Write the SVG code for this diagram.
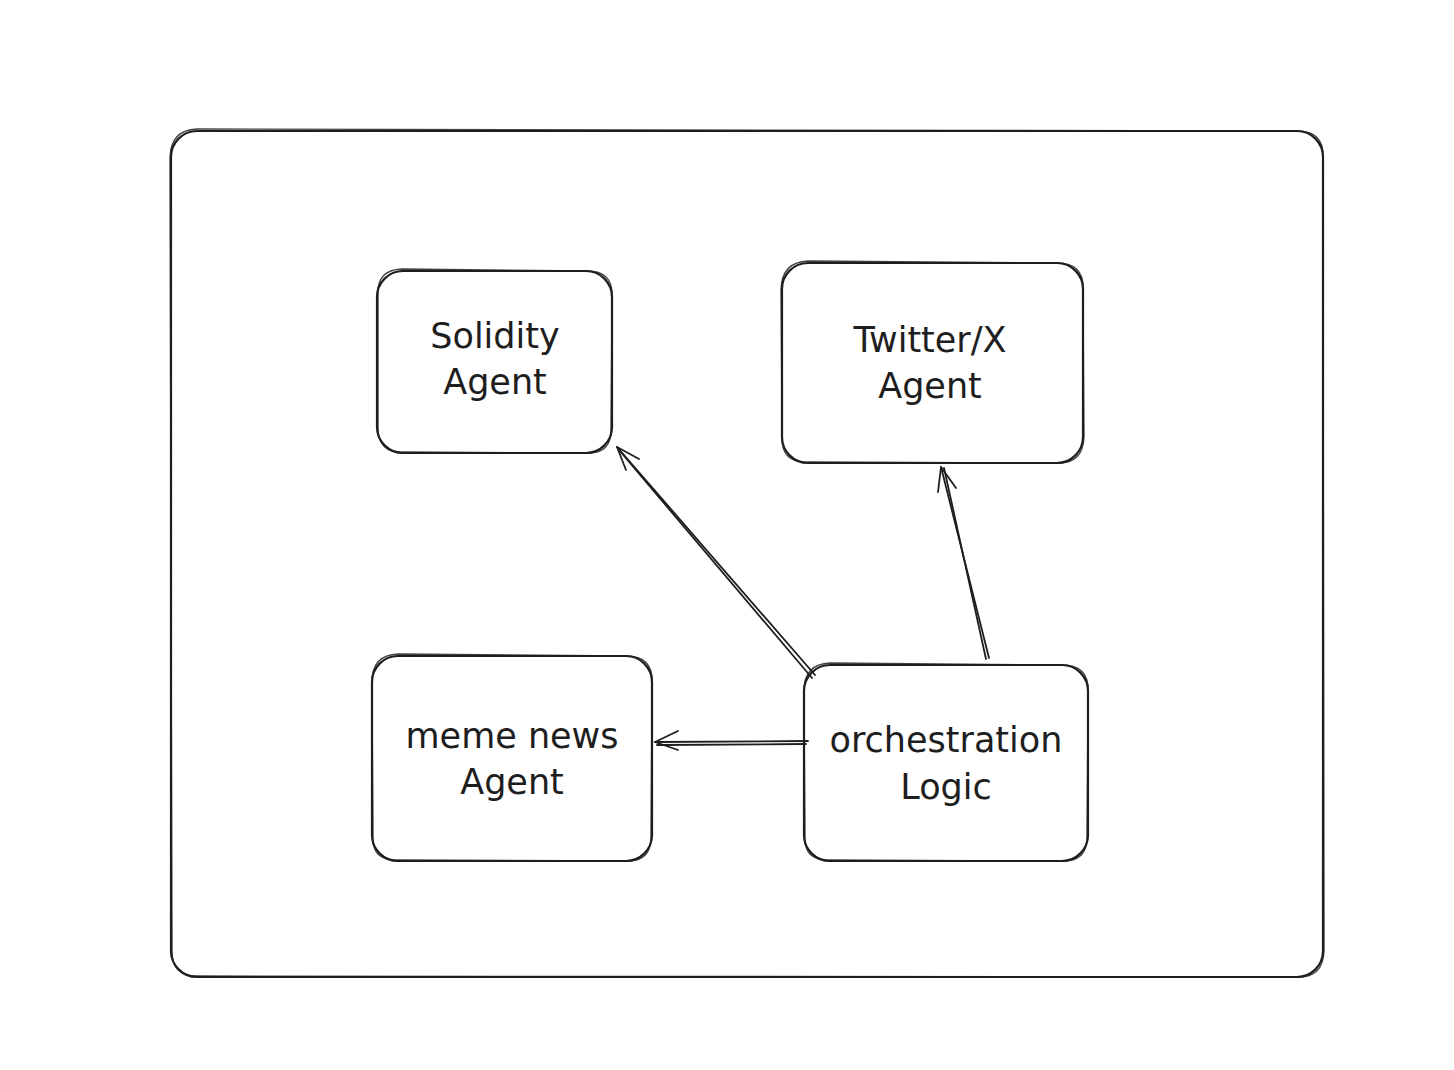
<svg xmlns="http://www.w3.org/2000/svg" width="1454" height="1070" viewBox="0 0 1454 1070">
<style>
.box{fill:none;stroke:#1e1e1e;stroke-width:2.2;stroke-linecap:round;stroke-linejoin:round}
.box2{fill:none;stroke:#1e1e1e;stroke-width:1.3;stroke-linecap:round;stroke-linejoin:round;opacity:0.85}
.ln{fill:none;stroke:#1e1e1e;stroke-width:1.8;stroke-linecap:round;stroke-linejoin:round}
.lbl{font-family:"DejaVu Sans",sans-serif;font-size:35px;fill:#1e1e1e;text-anchor:middle}
</style>
<rect width="1454" height="1070" fill="#ffffff"/>
<g id="frame">
<rect class="box" x="171" y="131" width="1152" height="846" rx="26"/>
<path class="box2" d="M197 129 L1297 131 Q1324 131 1323 157 L1324 951 Q1323 978 1297 977 L196 976 Q172 976 172 951 L170 157 Q171 130 197 129 Z"/>
</g>
<g id="solidity">
<rect class="box" x="377" y="271" width="235" height="182" rx="26"/>
<path class="box2" d="M402 269 L587 271 Q613 271 612 296 L611 428 Q612 454 587 453 L403 452 Q378 453 378 428 L378 296 Q376 270 402 269 Z"/>
<text class="lbl" x="495" y="348">Solidity</text>
<text class="lbl" x="495" y="394">Agent</text>
</g>
<g id="twitter">
<rect class="box" x="782" y="263" width="301" height="200" rx="26"/>
<path class="box2" d="M808 261 L1057 263 Q1084 263 1083 289 L1084 437 Q1083 464 1057 463 L808 462 Q781 463 782 437 L781 289 Q782 262 808 261 Z"/>
<text class="lbl" x="930" y="352">Twitter/X</text>
<text class="lbl" x="930" y="398">Agent</text>
</g>
<g id="meme">
<rect class="box" x="372" y="656" width="280" height="205" rx="26"/>
<path class="box2" d="M398 654 L626 656 Q653 656 652 682 L651 835 Q652 862 626 861 L398 860 Q371 861 373 835 L372 682 Q372 655 398 654 Z"/>
<text class="lbl" x="512" y="748">meme news</text>
<text class="lbl" x="512" y="794">Agent</text>
</g>
<g id="orchestration">
<rect class="box" x="804" y="665" width="284" height="196" rx="26"/>
<path class="box2" d="M830 663 L1062 665 Q1089 665 1088 691 L1087 835 Q1088 862 1062 861 L830 860 Q803 861 805 835 L804 691 Q804 664 830 663 Z"/>
<text class="lbl" x="946" y="752">orchestration</text>
<text class="lbl" x="946" y="799">Logic</text>
</g>
<g id="connectors">
<path class="ln" d="M815 675 L617 447"/>
<path class="ln" d="M812 678 L619 450"/>
<path class="ln" d="M626 470 L617 447 L639 459"/>
<path class="ln" d="M989 658 L941 467"/>
<path class="ln" d="M986 659 L944 468"/>
<path class="ln" d="M938 492 L941 467 L956 488"/>
<path class="ln" d="M808 741 L655 742"/>
<path class="ln" d="M806 744 L657 745"/>
<path class="ln" d="M678 731 L655 742 L678 750"/>
</g>
</svg>
